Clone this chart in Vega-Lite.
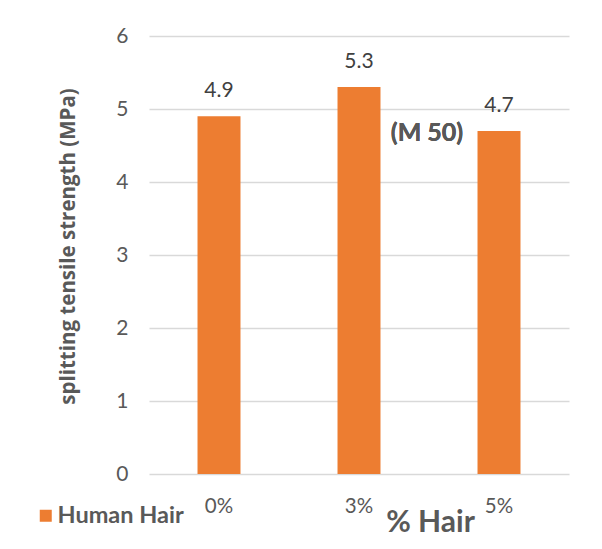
{
  "$schema": "https://vega.github.io/schema/vega-lite/v6.json",
  "autosize": {"type": "none"},
  "width": 420,
  "height": 438,
  "padding": {"left": 149, "top": 36, "right": 33, "bottom": 75},
  "background": "white",
  "config": {
    "font": "Lato",
    "view": {"stroke": null},
    "axis": {"labelColor": "#595959", "titleColor": "#595959", "labelFont": "Lato", "titleFont": "Lato"}
  },
  "data": {
    "values": [
      {"hair": "0%", "strength": 4.9, "series": "Human Hair"},
      {"hair": "3%", "strength": 5.3, "series": "Human Hair"},
      {"hair": "5%", "strength": 4.7, "series": "Human Hair"}
    ]
  },
  "encoding": {
    "x": {
      "field": "hair",
      "type": "nominal",
      "sort": null,
      "scale": {"paddingInner": 0.693, "paddingOuter": 0.3465},
      "axis": {
        "title": "% Hair",
        "titleFontSize": 30,
        "titleFontWeight": "bold",
        "titleX": 281,
        "titleY": 33,
        "labelAngle": 0,
        "labelFontSize": 20.5,
        "labelPadding": 22,
        "ticks": false,
        "domain": false,
        "grid": false
      }
    },
    "y": {
      "field": "strength",
      "type": "quantitative",
      "scale": {"domain": [0, 6], "nice": false},
      "axis": {
        "title": "splitting tensile strength (MPa)",
        "titleFont": "Open Sans",
        "titleFontSize": 20.5,
        "titleFontWeight": "bold",
        "titlePadding": 37,
        "titleY": 210,
        "values": [0, 1, 2, 3, 4, 5, 6],
        "labelFontSize": 21,
        "labelPadding": 21,
        "ticks": false,
        "domain": false,
        "grid": true,
        "gridColor": "#d9d9d9",
        "gridWidth": 1.3
      }
    }
  },
  "layer": [
    {
      "mark": {"type": "bar", "color": "#ED7D31"},
      "encoding": {
        "color": {
          "field": "series",
          "type": "nominal",
          "scale": {"range": ["#ED7D31"]},
          "legend": {
            "title": null,
            "orient": "none",
            "legendX": -115,
            "legendY": 468,
            "symbolType": "square",
            "symbolSize": 144,
            "symbolStrokeWidth": 0,
            "symbolOpacity": 1,
            "labelOffset": 0,
            "labelFontSize": 23.5,
            "labelFontWeight": "bold",
            "labelColor": "#595959",
            "labelFont": "Lato"
          }
        }
      }
    },
    {
      "mark": {"type": "text", "baseline": "bottom", "dy": -15, "fontSize": 21, "color": "#404040", "font": "Lato"},
      "encoding": {"text": {"field": "strength", "type": "quantitative", "format": ".1f"}}
    },
    {
      "mark": {"type": "text", "text": "(M 50)", "fontSize": 25, "fontWeight": "bold", "color": "#595959", "font": "Lato", "dx": 68, "align": "center", "baseline": "middle"},
      "encoding": {
        "x": {"datum": "3%"},
        "y": {"datum": 4.67}
      }
    }
  ]
}
